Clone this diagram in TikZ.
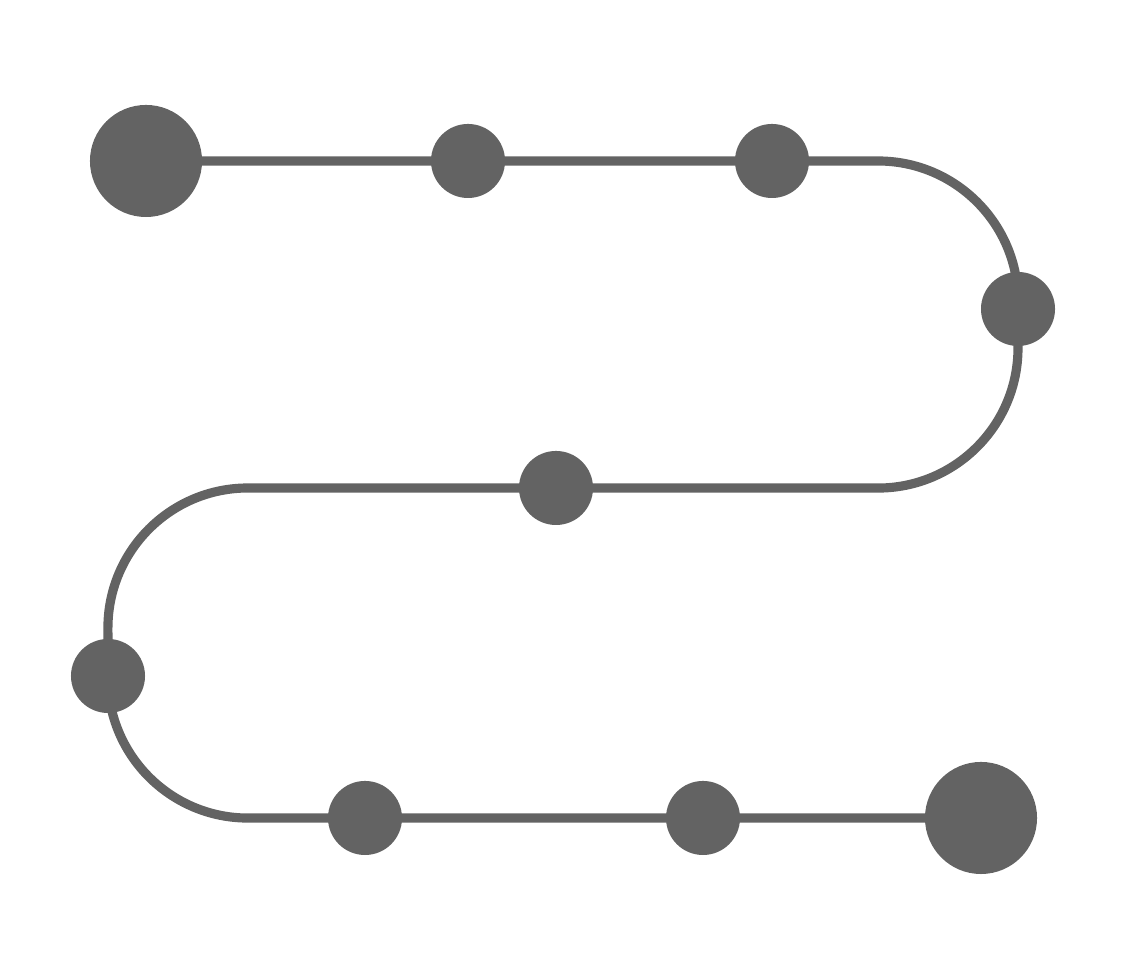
\documentclass[tikz,border=0pt]{standalone}
\usetikzlibrary{backgrounds}
\definecolor{pathgray}{RGB}{99,99,99}
\begin{document}
\begin{tikzpicture}[x=0.01cm,y=0.01cm,
  bigdot/.style={circle,fill=pathgray,inner sep=0pt,minimum size=1.12cm},
  smalldot/.style={circle,fill=pathgray,inner sep=0pt,minimum size=0.74cm},
  route/.style={draw=pathgray,line width=2.6pt}]
\useasboundingbox (0,0) rectangle (1127,980);
\node[bigdot]   (d1) at (146,819) {};
\node[smalldot] (d2) at (468,819) {};
\node[smalldot] (d3) at (772,819) {};
\node[smalldot] (d4) at (1018,671) {};
\node[smalldot] (d5) at (556,492) {};
\node[smalldot] (d6) at (108,304) {};
\node[smalldot] (d7) at (365,162) {};
\node[smalldot] (d8) at (703,162) {};
\node[bigdot]   (d9) at (981,162) {};
\coordinate (r1) at (878,819);
\coordinate (r2) at (878,492);
\coordinate (l1) at (248,492);
\coordinate (l2) at (248,162);
\begin{pgfonlayer}{background}
\draw[route] (d1.center) -- (d2.center) -- (d3.center) -- (r1)
  arc[start angle=90,end angle=0,radius=1.4cm] -- (1018,632)
  arc[start angle=0,end angle=-90,radius=1.4cm] -- (d5.center) -- (l1)
  arc[start angle=90,end angle=180,radius=1.4cm] -- (108,302)
  arc[start angle=180,end angle=270,radius=1.4cm] -- (d7.center) -- (d8.center) -- (d9.center);
\end{pgfonlayer}
\end{tikzpicture}
\end{document}
